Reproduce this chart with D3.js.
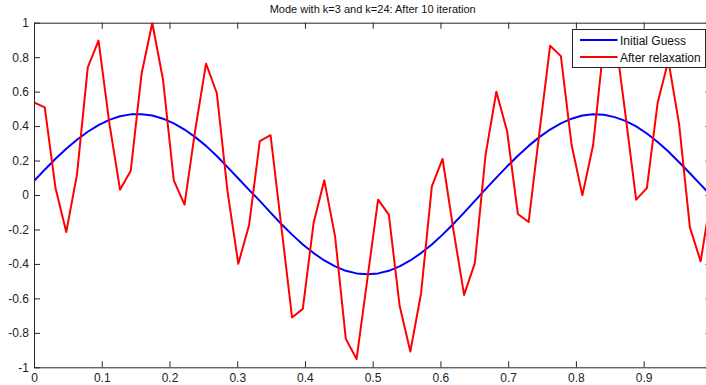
<!DOCTYPE html>
<html>
<head>
<meta charset="utf-8">
<script src="https://cdn.jsdelivr.net/npm/d3@7"></script>
<style>
  html, body { margin: 0; padding: 0; background: #fff; }
  svg { display: block; font-family: "Liberation Sans", Arial, sans-serif; }
</style>
</head>
<body>
<figure id="chart" style="margin:0"></figure>
<script>
// data, 64 samples on [0, 1]
const title = "Mode with k=3 and k=24: After 10 iteration";
const seriesNames = ["Initial Guess", "After relaxation"];
const xTicks = [0, 0.1, 0.2, 0.3, 0.4, 0.5, 0.6, 0.7, 0.8, 0.9];
const yTicks = [-1, -0.8, -0.6, -0.4, -0.2, 0, 0.2, 0.4, 0.6, 0.8, 1];

const initialGuess = [
  0.081, 0.147, 0.21, 0.268, 0.321, 0.367, 0.406, 0.436, 0.457, 0.468,
  0.469, 0.461, 0.443, 0.416, 0.38, 0.336, 0.285, 0.226, 0.162, 0.096,
  0.03, -0.034, -0.102, -0.168, -0.23, -0.287, -0.337, -0.38, -0.414, -0.44,
  -0.455, -0.46, -0.455, -0.44, -0.414, -0.38, -0.337, -0.287, -0.23, -0.168,
  -0.102, -0.034, 0.034, 0.101, 0.166, 0.228, 0.285, 0.336, 0.38, 0.416,
  0.443, 0.461, 0.469, 0.466, 0.452, 0.43, 0.398, 0.357, 0.308, 0.252,
  0.19, 0.126, 0.06, -0.005
];

const afterRelaxation = [
  0.538, 0.509, 0.04, -0.215, 0.12, 0.741, 0.896, 0.42, 0.031, 0.141,
  0.702, 0.998, 0.669, 0.085, -0.056, 0.38, 0.762, 0.592, 0.02, -0.399,
  -0.176, 0.312, 0.347, -0.18, -0.711, -0.661, -0.163, 0.085, -0.24, -0.835,
  -0.952, -0.49, -0.027, -0.114, -0.641, -0.909, -0.57, 0.05, 0.209, -0.2,
  -0.58, -0.395, 0.234, 0.599, 0.37, -0.11, -0.157, 0.36, 0.866, 0.806,
  0.29, -0.002, 0.29, 0.88, 0.95, 0.47, -0.027, 0.04, 0.535, 0.78,
  0.41, -0.188, -0.385, 0.0
];

const colors = ["#0000ff", "#ff0000"];

const width = 706;
const height = 385;
const plot = { left: 34, right: 711.4, top: 22.7, bottom: 367.3 };

const svg = d3.select("figure#chart")
  .append("svg")
  .attr("width", width)
  .attr("height", height);

const x = d3.scaleLinear()
  .domain([0, 1])
  .range([plot.left, plot.right]);

const y = d3.scaleLinear()
  .domain([-1, 1])
  .range([plot.bottom, plot.top]);

// sample positions
const xs = d3.range(initialGuess.length).map(i => i / (initialGuess.length - 1));

svg.append("clipPath")
  .attr("id", "clip")
  .append("rect")
  .attr("x", plot.left)
  .attr("y", plot.top)
  .attr("width", plot.right - plot.left)
  .attr("height", plot.bottom - plot.top);

// Lines
const line = d3.line()
  .x((d, i) => x(xs[i]))
  .y(d => y(d));

[initialGuess, afterRelaxation].forEach((series, k) => {
  svg.append("path")
    .datum(series)
    .attr("clip-path", "url(#clip)")
    .attr("fill", "none")
    .attr("stroke", colors[k])
    .attr("stroke-width", 2)
    .attr("stroke-linejoin", "round")
    .attr("d", line);
});

// Axes, MATLAB style: box on, ticks pointing inward
const axisColor = "#262626";
const fmt = d => String(Math.round(d * 10) / 10);

const bottomAxis = svg.append("g")
  .attr("transform", "translate(0," + plot.bottom + ")")
  .call(d3.axisBottom(x).tickValues(xTicks).tickSizeInner(-6).tickSizeOuter(0).tickPadding(6).tickFormat(fmt));

const topAxis = svg.append("g")
  .attr("transform", "translate(0," + plot.top + ")")
  .call(d3.axisTop(x).tickValues(xTicks).tickSizeInner(-6).tickSizeOuter(0).tickFormat(""));

const leftAxis = svg.append("g")
  .attr("transform", "translate(" + plot.left + ",0)")
  .call(d3.axisLeft(y).tickValues(yTicks).tickSizeInner(-6).tickSizeOuter(0).tickPadding(5).tickFormat(fmt));

const rightAxis = svg.append("g")
  .attr("transform", "translate(" + plot.right + ",0)")
  .call(d3.axisRight(y).tickValues(yTicks).tickSizeInner(-6).tickSizeOuter(0).tickFormat(""));

[bottomAxis, topAxis, leftAxis, rightAxis].forEach(g => {
  g.select(".domain").attr("stroke", axisColor);
  g.selectAll(".tick line").attr("stroke", axisColor);
  g.selectAll("text")
    .attr("fill", "#222")
    .style("font-family", "'Liberation Sans', Arial, sans-serif")
    .style("font-size", "12px");
});

// Title
svg.append("text")
  .attr("x", (plot.left + plot.right) / 2)
  .attr("y", 13)
  .attr("text-anchor", "middle")
  .attr("fill", "#111")
  .style("font-size", "11px")
  .text(title);

// Legend
const legend = svg.append("g")
  .attr("transform", "translate(572.5,29.5)");

legend.append("rect")
  .attr("width", 133)
  .attr("height", 38)
  .attr("fill", "#fff")
  .attr("stroke", axisColor)
  .attr("stroke-width", 1);

seriesNames.forEach((name, k) => {
  legend.append("line")
    .attr("x1", 7.5)
    .attr("x2", 45)
    .attr("y1", 10.5 + k * 17)
    .attr("y2", 10.5 + k * 17)
    .attr("stroke", colors[k])
    .attr("stroke-width", 2);
  legend.append("text")
    .attr("x", 47.5)
    .attr("y", 15 + k * 17)
    .attr("fill", "#111")
    .style("font-size", "12px")
    .text(name);
});
</script>
</body>
</html>
